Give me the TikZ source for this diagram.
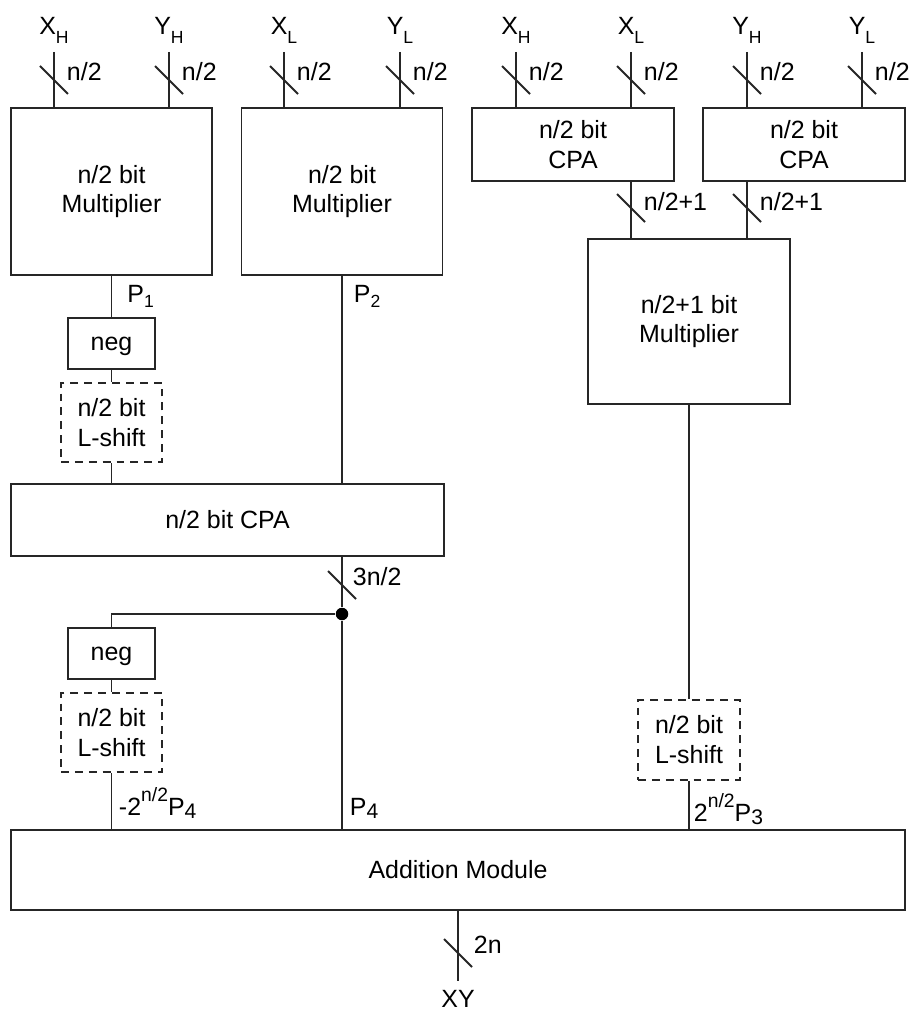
\documentclass[tikz,border=0pt]{standalone}
\usepackage{fontspec}
\setmainfont{Liberation Sans}

\newcommand{\lowsub}[2][-0.35em]{\raisebox{#1}{\fontsize{10}{10}\selectfont #2}}
\newcommand{\highsup}[1]{\raisebox{0.53em}{\fontsize{11}{11}\selectfont #1}}

\begin{document}
\begin{tikzpicture}[line width=1.1pt, color=black!85,
    every node/.style={font=\fontsize{14.2}{17}\selectfont, text=black},
    block/.style={draw, align=center, inner sep=0pt},
    shiftbox/.style={block, dash pattern=on 4.5pt off 3.4pt},
    iolbl/.style={inner sep=0.16cm},
    buslbl/.style={anchor=west, inner sep=0pt},
    sig/.style={anchor=base west, inner sep=0pt},
    junction/.style={circle, fill=black, inner sep=0pt, minimum size=0.25cm}]

    \useasboundingbox (0,0) rectangle (18.2,-20.24);

    % input operands
    \node[iolbl, anchor=south] (xh1) at (1.08,-1.04) {X\lowsub{H}};
    \node[iolbl, anchor=south] (yh1) at (3.38,-1.04) {Y\lowsub{H}};
    \node[iolbl, anchor=south] (xl1) at (5.68,-1.04) {X\lowsub{L}};
    \node[iolbl, anchor=south] (yl1) at (8.0,-1.04) {Y\lowsub{L}};
    \node[iolbl, anchor=south] (xh2) at (10.32,-1.04) {X\lowsub{H}};
    \node[iolbl, anchor=south] (xl2) at (12.62,-1.04) {X\lowsub{L}};
    \node[iolbl, anchor=south] (yh2) at (14.94,-1.04) {Y\lowsub{H}};
    \node[iolbl, anchor=south] (yl2) at (17.24,-1.04) {Y\lowsub{L}};

    % first stage blocks
    \node[block, minimum width=4.02cm, minimum height=3.34cm] (m1) at (2.23,-3.83) {n/2 bit\\Multiplier};
    \node[block, minimum width=4.02cm, minimum height=3.34cm] (m2) at (6.84,-3.83) {n/2 bit\\Multiplier};
    \node[block, minimum width=4.04cm, minimum height=1.46cm] (cpa1) at (11.46,-2.89) {n/2 bit\\CPA};
    \node[block, minimum width=4.04cm, minimum height=1.46cm] (cpa2) at (16.08,-2.89) {n/2 bit\\CPA};
    \node[block, minimum width=4.04cm, minimum height=3.3cm] (m3) at (13.78,-6.43) {n/2+1 bit\\Multiplier};

    % P1 path
    \node[block, minimum width=1.74cm, minimum height=1.02cm, text depth=0pt] (neg1) at (2.23,-6.87) {neg};
    \node[shiftbox, minimum width=2.02cm, minimum height=1.58cm] (sh1) at (2.23,-8.45) {n/2 bit\\L-shift};
    \node[block, minimum width=8.66cm, minimum height=1.44cm] (cpa3) at (4.55,-10.4) {n/2 bit CPA};

    % P4 path
    \node[junction] (dot) at (6.84,-12.28) {};
    \node[block, minimum width=1.74cm, minimum height=1.02cm, text depth=0pt] (neg2) at (2.23,-13.07) {neg};
    \node[shiftbox, minimum width=2.02cm, minimum height=1.58cm] (sh2) at (2.23,-14.65) {n/2 bit\\L-shift};
    \node[shiftbox, minimum width=2.04cm, minimum height=1.6cm] (sh3) at (13.78,-14.8) {n/2 bit\\L-shift};

    % output stage
    \node[block, minimum width=17.88cm, minimum height=1.6cm] (add) at (9.16,-17.4) {Addition Module};
    \node[iolbl, anchor=north] (xy) at (9.16,-19.62) {XY};

    % input wires
    \draw (xh1.south) -- (xh1.south |- m1.north);
    \draw (yh1.south) -- (yh1.south |- m1.north);
    \draw (xl1.south) -- (xl1.south |- m2.north);
    \draw (yl1.south) -- (yl1.south |- m2.north);
    \draw (xh2.south) -- (xh2.south |- cpa1.north);
    \draw (xl2.south) -- (xl2.south |- cpa1.north);
    \draw (yh2.south) -- (yh2.south |- cpa2.north);
    \draw (yl2.south) -- (yl2.south |- cpa2.north);
    \foreach \x [count=\i] in {1.08,3.38,5.68,8.0,10.32,12.62,14.94,17.24} {
        \draw (\x-0.28,-1.32) -- (\x+0.28,-1.88);
        \node[buslbl] (w\i) at (\x+0.24,-1.44) {n/2};
    }

    % CPA outputs into n/2+1 bit multiplier
    \draw (xl2.south |- cpa1.south) -- (xl2.south |- m3.north);
    \draw (yh2.south |- cpa2.south) -- (yh2.south |- m3.north);
    \draw (12.34,-3.88) -- (12.9,-4.44);
    \draw (14.66,-3.88) -- (15.22,-4.44);
    \node[buslbl] (wa) at (12.86,-4.04) {n/2+1};
    \node[buslbl] (wb) at (15.18,-4.04) {n/2+1};

    % left column
    \draw (m1.south) -- (neg1.north) node[midway, anchor=west, xshift=0.3cm, inner sep=0pt] (p1) {P\lowsub[-0.2em]{1}};
    \draw (neg1.south) -- (sh1.north);
    \draw (sh1.south) -- (sh1.south |- cpa3.north);
    \draw (m2.south) -- (m2.south |- cpa3.north) node[pos=0.1, anchor=west, xshift=0.22cm, inner sep=0pt] (p2) {P\lowsub[-0.2em]{2}};

    % CPA result split
    \draw (m2.south |- cpa3.south) -- (dot) -- (dot |- add.north)
        node[sig, xshift=0.14cm, yshift=0.27cm] (p4) {P\lowsub[-0.12em]{\fontsize{12}{12}\selectfont 4}};
    \draw (6.56,-11.42) -- (7.12,-11.98);
    \node[buslbl] (w3n) at (7.04,-11.54) {3n/2};
    \draw (dot) -| (neg2.north);
    \draw (neg2.south) -- (sh2.north);
    \draw (sh2.south) -- (sh2.south |- add.north)
        node[sig, xshift=0.13cm, yshift=0.28cm] (p4n) {-2\highsup{n/2}P\lowsub[-0.12em]{\fontsize{12}{12}\selectfont 4}};

    % right column
    \draw (m3.south) -- (sh3.north);
    \draw (sh3.south) -- (sh3.south |- add.north)
        node[sig, xshift=0.08cm, yshift=0.16cm] (p3) {2\highsup{n/2}P\lowsub[-0.12em]{\fontsize{12}{12}\selectfont 3}};

    % result
    \draw (add.south) -- (xy.north);
    \draw (8.88,-18.78) -- (9.44,-19.34);
    \node[buslbl] (w2n) at (9.46,-18.9) {2n};
\end{tikzpicture}
\end{document}
